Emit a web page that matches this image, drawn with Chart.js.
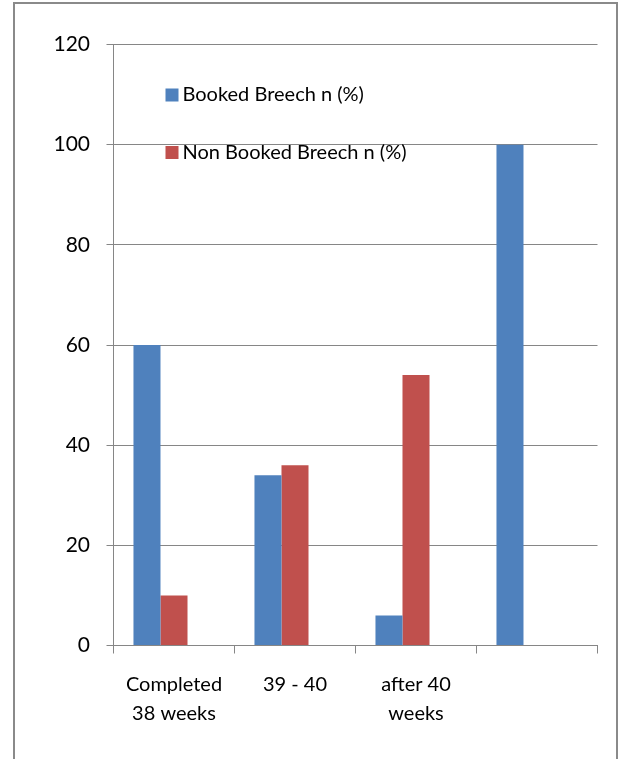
<!DOCTYPE html>
<html>
<head>
<meta charset="utf-8">
<script src="https://cdn.jsdelivr.net/npm/chart.js@4.4.1/dist/chart.umd.min.js"></script>
<style>
  html, body { margin: 0; padding: 0; background: #fff; overflow: hidden; }
  #frame {
    position: absolute; left: 13px; top: 2px; width: 601px; height: 820px;
    border: 2px solid #8a8a8a; background: #fff;
  }
  #c { position: absolute; left: 0; top: 0; }
</style>
</head>
<body>
<div id="frame"></div>
<canvas id="c" width="620" height="759"></canvas>
<script>
// Gestational age groups
const categories = [['Completed', '38 weeks'], '39 - 40', ['after 40', 'weeks'], ''];
// Percentages per group
const bookedBreech = [60, 34, 6, 100];
const nonBookedBreech = [10, 36, 54, null];
const emptySeries = [null, null, null, null];
const yTicks = [0, 20, 40, 60, 80, 100, 120];

const seriesNames = ['Booked Breech n (%)', 'Non Booked Breech n (%)', ''];
const seriesColors = ['#4F81BD', '#C0504D', '#9BBB59'];

const FONT = 'Lato, "Open Sans", sans-serif';

// Legend drawn inside the plot area, one entry per row
const insideLegend = {
  id: 'insideLegend',
  afterDatasetsDraw(chart) {
    const ctx = chart.ctx;
    const area = chart.chartArea;
    const rows = [50.5, 108];
    ctx.save();
    ctx.font = '20px ' + FONT;
    ctx.textBaseline = 'middle';
    ctx.textAlign = 'left';
    chart.data.datasets.forEach((ds, i) => {
      if (!ds.label) return;
      const y = area.top + rows[i];
      const x = area.left + 52;
      ctx.fillStyle = ds.backgroundColor;
      ctx.fillRect(x, y - 6.5, 13, 13);
      ctx.fillStyle = '#000';
      ctx.fillText(ds.label, x + 17, y);
    });
    ctx.restore();
  }
};

new Chart(document.getElementById('c'), {
  type: 'bar',
  data: {
    labels: categories,
    datasets: [
      { label: seriesNames[0], data: bookedBreech, backgroundColor: seriesColors[0] },
      { label: seriesNames[1], data: nonBookedBreech, backgroundColor: seriesColors[1] },
      { label: seriesNames[2], data: emptySeries, backgroundColor: seriesColors[2] }
    ]
  },
  options: {
    responsive: false,
    animation: false,
    devicePixelRatio: 1,
    layout: { padding: { left: 0, right: 22.5, top: 44.5, bottom: 0 } },
    datasets: { bar: { categoryPercentage: 0.67, barPercentage: 1.0, borderWidth: 0 } },
    plugins: { legend: { display: false }, tooltip: { enabled: false } },
    scales: {
      x: {
        offset: true,
        grid: { offset: true, drawOnChartArea: false, drawTicks: true, tickLength: 8, color: '#868686', lineWidth: 1 },
        border: { color: '#868686', width: 1 },
        ticks: { color: '#000', font: { family: FONT, size: 20, lineHeight: 1.45 }, padding: 17, maxRotation: 0, autoSkip: false },
        afterFit(scale) { scale.height = 113.5; }
      },
      y: {
        min: 0, max: 120,
        afterBuildTicks(scale) { scale.ticks = yTicks.map(v => ({ value: v })); },
        grid: { color: '#868686', lineWidth: 1, drawTicks: true, tickLength: 7 },
        border: { color: '#868686', width: 1 },
        ticks: { color: '#000', font: { family: FONT, size: 21 }, padding: 16.5 },
        afterFit(scale) { scale.width = 113.5; }
      }
    }
  },
  plugins: [insideLegend]
});
</script>
</body>
</html>
